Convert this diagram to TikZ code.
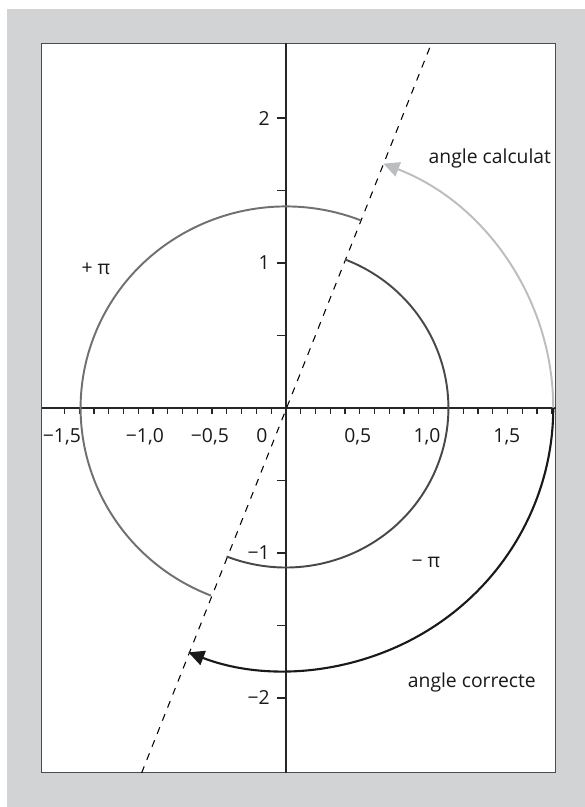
\documentclass[tikz,border=0pt]{standalone}
\usepackage{fontspec}
\setmainfont{Open Sans}
\usetikzlibrary{arrows.meta}
\definecolor{paneGray}{RGB}{210,211,213}
\definecolor{calcGray}{RGB}{188,189,191}
\definecolor{outerGray}{RGB}{112,112,112}
\definecolor{innerGray}{RGB}{72,72,72}

\begin{document}
\begin{tikzpicture}[x=2.954cm, y=2.9cm, every node/.style={font=\fontsize{11}{13}\selectfont, inner sep=0pt, text=black!90},
  axis/.style={draw=black!85, line width=0.7pt},
  tip/.style={-{Triangle[length=9pt, width=8.5pt]}}]
  \useasboundingbox (-1.936,-2.752) rectangle (2.024,2.814);
  % panel
  \fill[paneGray] (-1.889,-2.752) rectangle (2.024,2.752);
  \draw[fill=white, draw=black!70, line width=0.6pt] (-1.652,-2.517) rectangle (1.828,2.517);
  % axes
  \draw[axis] (-1.652,0) -- (1.828,0);
  \draw[axis] (0,-2.517) -- (0,2.517);
  \foreach \i in {-15,...,18} { \draw[axis] (\i/10,0) -- (\i/10,-0.041); }
  \foreach \y in {-2,-1.5,-1,-0.5,0.5,1,1.5,2} { \draw[axis] (0,\y) -- (-0.061,\y); }
  \foreach \x/\t/\n in {-1.517/{−1,5}/a, -0.955/{−1,0}/b, -0.515/{−0,5}/c, -0.162/{0}/d,
                        0.487/{0,5}/e, 0.955/{1,0}/f, 1.496/{1,5}/g}
    { \node[anchor=base] (xl\n) at (\x,-0.235) {\t}; }
  \foreach \y/\t/\n in {2/{2}/a, 1/{1}/b, -1/{−1}/c, -2/{−2}/d}
    { \node[anchor=east] (yl\n) at (-0.108,\y) {\t}; }
  % dashed line
  \coordinate (lineLow) at (-0.977,-2.517);
  \coordinate (lineHigh) at (0.986,2.517);
  \draw[dash pattern=on 4pt off 4pt, line width=0.6pt] (lineLow) -- (lineHigh);
  % arcs
  \draw[outerGray, line width=1.1pt] (68.6:1.39) arc[start angle=68.6, end angle=248.6, radius=1.39];
  \draw[innerGray, line width=1.1pt] (68.6:1.1) arc[start angle=68.6, end angle=-111.4, radius=1.1];
  \draw[calcGray, line width=1.1pt, tip] (1.81,0) arc[start angle=0, end angle=68.6, radius=1.81];
  \draw[black!90, line width=1.2pt, tip] (1.81,0) arc[start angle=0, end angle=-111.4, radius=1.81];
  % labels
  \node (calc) at (1.381,1.724) {angle calculat};
  \node (corr) at (1.259,-1.890) {angle correcte};
  \node (plusPi) at (-1.286,0.959) {+ π};
  \node (minusPi) at (0.948,-1.062) {− π};
\end{tikzpicture}
\end{document}
